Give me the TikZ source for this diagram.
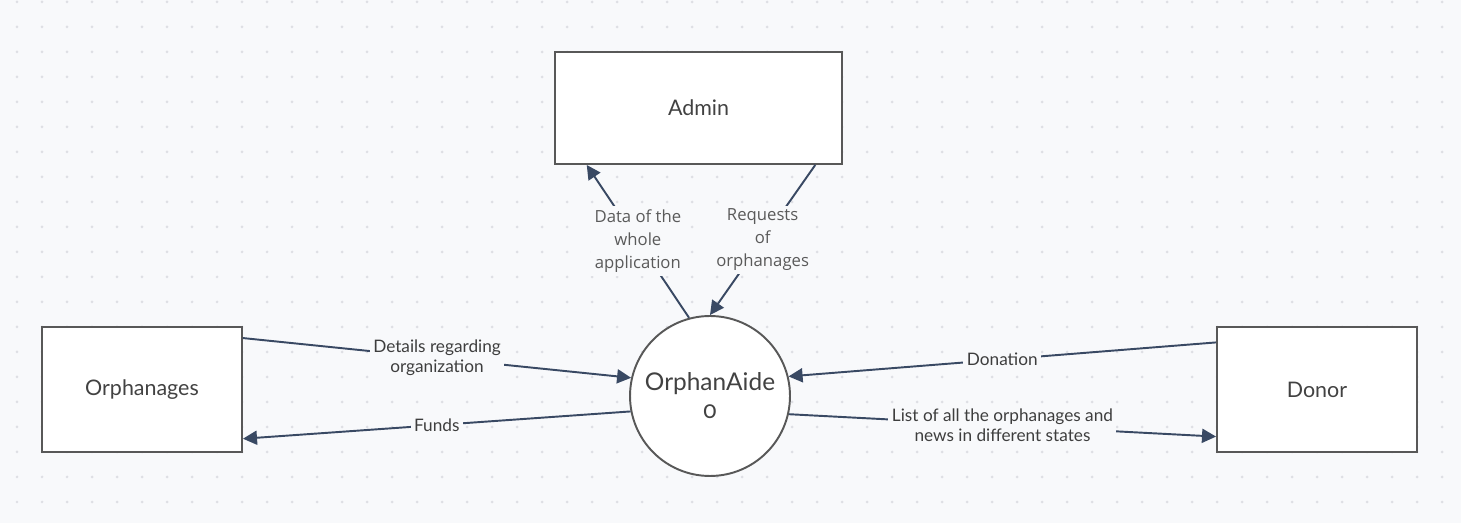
\documentclass[tikz,border=0pt]{standalone}
\usepackage{fontspec}
\setmainfont{Lato}
\newfontfamily\labelfont{Open Sans}
\usetikzlibrary{arrows.meta}
\definecolor{canvas}{RGB}{248,249,251}
\definecolor{griddot}{RGB}{222,223,228}
\definecolor{flowline}{RGB}{57,73,99}
\definecolor{boxline}{RGB}{88,88,88}
\definecolor{boxtext}{RGB}{66,66,66}
\definecolor{flowtext}{RGB}{62,62,62}
\definecolor{notetext}{RGB}{90,90,90}
\tikzset{
  entity/.style={draw=boxline, line width=1.1pt, fill=white, text=boxtext,
    font=\fontsize{12.2}{14}\selectfont, inner sep=0pt},
  process/.style={circle, draw=boxline, line width=1.1pt, fill=white, text=boxtext,
    minimum size=3.2cm, inner sep=0pt, align=center,
    font=\fontsize{13.9}{16}\selectfont\addfontfeature{Numbers=OldStyle}},
  flow/.style={draw=flowline, line width=1.1pt, -{Triangle[length=8pt,width=8pt]}},
  flowlabel/.style={fill=canvas, text=flowtext, align=center, inner sep=2pt,
    font=\fontsize{9.8}{11.2}\selectfont},
  notelabel/.style={fill=canvas, text=notetext, align=center, inner sep=2pt,
    font=\labelfont\fontsize{9.5}{13.1}\selectfont}
}

\begin{document}
\begin{tikzpicture}[x=0.02cm, y=-0.02cm]
		\fill[canvas] (0,0) rectangle (1461,523);
		\useasboundingbox (0,0) rectangle (1461,523);
		\foreach \i in {0,...,57}
			\foreach \j in {0,...,20}
				\fill[griddot] (17+25*\i, 2+25*\j) circle (0.03cm);

		\node[entity, minimum width=5.74cm, minimum height=2.24cm] (admin) at (698.5,108) {Admin};
		\node[entity, minimum width=4cm, minimum height=2.5cm] (orph) at (142,389.5) {Orphanages};
		\node[entity, minimum width=4cm, minimum height=2.5cm] (donor) at (1317,389.5) {Donor};
		\node[process] (proc) at (710,396) {OrphanAide\\0};

		\draw[flow] (orph.27) -- node[flowlabel] {Details regarding\\organization} (proc.167);
		\draw[flow] (proc.191) -- node[flowlabel] {Funds} (orph.-26);
		\draw[flow] (donor.155.5) -- node[flowlabel] {Donation} (proc.14.5);
		\draw[flow] (proc.-13) -- node[flowlabel] {List of all the orphanages and\\news in different states} (donor.205.4);
		\draw[flow] (proc.105) -- node[notelabel] {Data of the\\whole\\application} (admin.207.3);
		\draw[flow] (admin.-26.7) -- node[notelabel] {Requests\\of\\orphanages} (proc.90);
	\end{tikzpicture}
\end{document}
